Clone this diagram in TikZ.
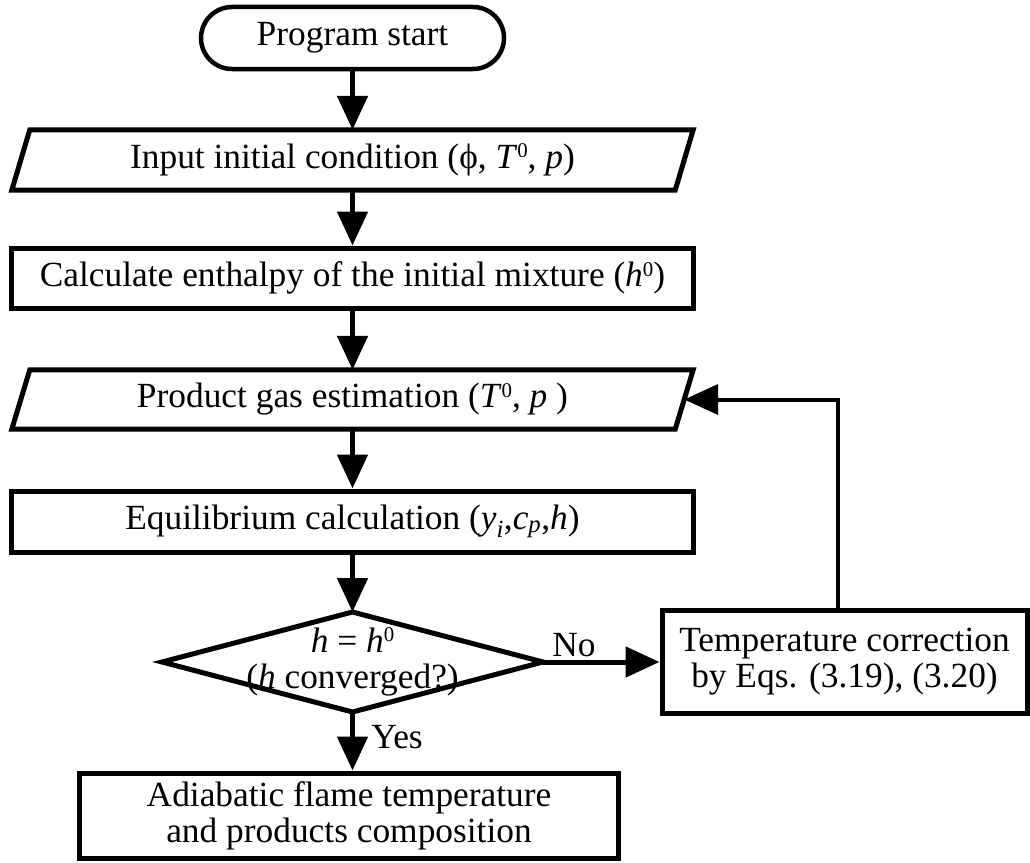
\documentclass[tikz,border=0pt]{standalone}
\usepackage{fontspec}
\setmainfont{Liberation Serif}
\usetikzlibrary{arrows.meta,calc}
\newcommand\supz{\raisebox{0.3em}{\fontsize{21}{21}\selectfont 0}}
\tikzset{
  base/.style={inner sep=0pt, align=center, font=\fontsize{35.5}{36}\selectfont},
  procbox/.style={base, draw, line width=5bp},
  plain/.style={base},
  arr/.style={line width=5bp, -{Triangle[length=34bp,width=30bp]}},
  shapeline/.style={line width=5bp, line join=miter},
}
\begin{document}
\begin{tikzpicture}[x=1bp,y=-1bp]
\useasboundingbox (0,0) rectangle (1030,863);

\node[procbox, rounded corners=31bp, minimum width=303bp, minimum height=62bp, line width=4.5bp] (start) at (352.5,38) {Program start};

\node[plain, minimum width=663bp, minimum height=60bp] (input) at (352.5,160) {Input initial condition (ϕ, \textit{T}\supz, \textit{p})};
\draw[shapeline] ([xshift=-9bp]input.south west) -- ([xshift=9bp]input.north west) -- ([xshift=9bp]input.north east) -- ([xshift=-9bp]input.south east) -- cycle;

\node[procbox, minimum width=681bp, minimum height=60bp] (calc) at (352.5,278) {Calculate enthalpy of the initial mixture (\textit{h}\supz)};

\node[plain, minimum width=663bp, minimum height=59bp] (prod) at (352.5,399.5) {Product gas estimation (\textit{T}\supz, \textit{p} )};
\draw[shapeline] ([xshift=-9bp]prod.south west) -- ([xshift=9bp]prod.north west) -- ([xshift=9bp]prod.north east) -- ([xshift=-9bp]prod.south east) -- cycle;

\node[procbox, minimum width=681bp, minimum height=61bp] (equil) at (352.5,521.5) {Equilibrium calculation (\textit{y}\textsubscript{\textit{i}},\textit{c}\textsubscript{\textit{p}},\textit{h})};

\node[plain] (dec) at (352.5,662) {\textit{h} = \textit{h}\supz\\(\textit{h} converged?)};
\coordinate (dtop) at (352.5,612);
\coordinate (dleft) at (162,662);
\coordinate (dright) at (543,662);
\coordinate (dbot) at (352.5,712);
\draw[shapeline] (dtop) -- (dright) -- (dbot) -- (dleft) -- cycle;

\node[procbox, minimum width=365bp, minimum height=103bp] (temp) at (844.5,662) {Temperature correction\\by Eqs. (3.19), (3.20)};

\node[procbox, minimum width=538bp, minimum height=85bp] (final) at (349,815.5) {Adiabatic flame temperature\\and products composition};

\draw[arr] (start) -- (input);
\draw[arr] (input) -- (calc);
\draw[arr] (calc) -- (prod);
\draw[arr] (prod) -- (equil);
\draw[arr] (equil) -- (dtop);
\draw[arr] (dright) -- (temp.west);
\node[plain] (no) at (574,645) {No};
\draw[arr] (dbot) -- (dbot |- final.north);
\node[plain] (yes) at (397,737) {Yes};
\coordinate (fbx) at (838,0);
\draw[arr, line width=4bp] (temp.north -| fbx) |- (prod.east);
\end{tikzpicture}
\end{document}
